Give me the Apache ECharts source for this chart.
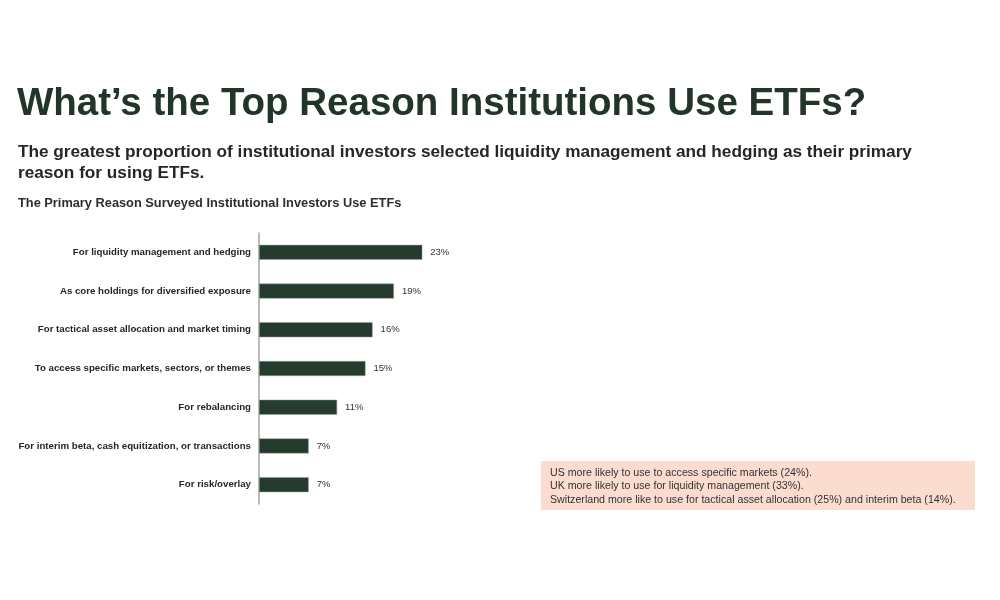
<!DOCTYPE html>
<html>
<head>
<meta charset="utf-8">
<script src="https://cdn.jsdelivr.net/npm/echarts@6/dist/echarts.min.js"></script>
<style>html,body{margin:0;padding:0;background:#fff;}#c{width:1000px;height:600px;}</style>
</head>
<body>
<div id="c"></div>
<script>
const categories = [
  "For liquidity management and hedging",
  "As core holdings for diversified exposure",
  "For tactical asset allocation and market timing",
  "To access specific markets, sectors, or themes",
  "For rebalancing",
  "For interim beta, cash equitization, or transactions",
  "For risk/overlay"
];
const values = [23, 19, 16, 15, 11, 7, 7];
const noteLines = [
  "US more likely to use to access specific markets (24%).",
  "UK more likely to use for liquidity management (33%).",
  "Switzerland more like to use for tactical asset allocation (25%) and interim beta (14%)."
];

const FONT = "Liberation Sans, Arial, sans-serif";
const chart = echarts.init(document.getElementById('c'), null, {renderer: 'canvas'});
chart.setOption({
  backgroundColor: '#ffffff',
  animation: false,
  textStyle: {fontFamily: FONT},
  title: [
    {
      text: "What\u2019s the Top Reason Institutions Use ETFs?",
      left: 17, top: 85, padding: 0,
      textStyle: {fontSize: 38.5, fontWeight: 'bold', color: '#213528', fontFamily: FONT}
    },
    {
      text: "The greatest proportion of institutional investors selected liquidity management and hedging as their primary\nreason for using ETFs.",
      left: 18, top: 142, padding: 0,
      textStyle: {fontSize: 17.2, fontWeight: 'bold', color: '#262626', lineHeight: 21, fontFamily: FONT}
    },
    {
      text: "The Primary Reason Surveyed Institutional Investors Use ETFs",
      left: 18, top: 197, padding: 0,
      textStyle: {fontSize: 12.8, fontWeight: 'bold', color: '#2e2e2e', fontFamily: FONT}
    }
  ],
  grid: {left: 259, top: 233, width: 213, height: 271, containLabel: false},
  xAxis: {
    type: 'value', min: 0, max: 30, show: false
  },
  yAxis: {
    type: 'category', data: categories, inverse: true,
    axisLine: {show: true, lineStyle: {color: '#a6a6a6', width: 1.5}},
    axisTick: {show: false},
    axisLabel: {margin: 8, fontSize: 9.7, fontWeight: 'bold', color: '#262626', fontFamily: FONT}
  },
  series: [{
    type: 'bar', data: values, barWidth: 15,
    itemStyle: {color: '#243b2e', borderColor: '#9aa59e', borderWidth: 0.5},
    label: {show: true, position: 'right', distance: 8, formatter: '{c}%', fontSize: 9.5, color: '#333', fontFamily: FONT}
  }],
  graphic: [
    {type: 'rect', left: 541, top: 461, shape: {width: 434, height: 49}, style: {fill: '#fcdccf'}},
    {type: 'text', left: 550, top: 466, style: {text: noteLines.join('\n'), font: '10.65px ' + FONT, fill: '#333333', lineHeight: 13.5}}
  ]
});
</script>
</body>
</html>
